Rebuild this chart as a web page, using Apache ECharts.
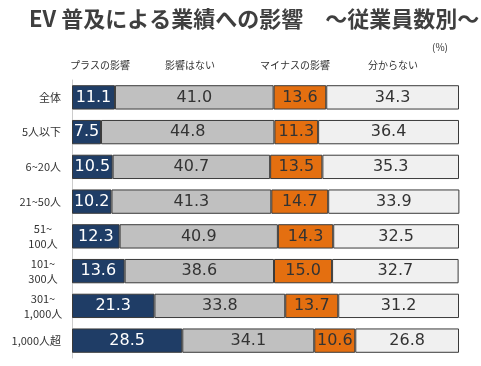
<!DOCTYPE html>
<html><head><meta charset="utf-8">
<script src="https://cdn.jsdelivr.net/npm/echarts@6/dist/echarts.min.js"></script>
<style>html,body{margin:0;padding:0;background:#fff}#c{width:481px;height:366px}</style>
</head><body><div id="c"></div>
<script>
const categories = ['全体','5人以下','6~20人','21~50人','51~\n100人','101~\n300人','301~\n1,000人','1,000人超'];
const seriesNames = ['プラスの影響','影響はない','マイナスの影響','分からない'];
const plus = [11.1, 7.5, 10.5, 10.2, 12.3, 13.6, 21.3, 28.5];
const none = [41.0, 44.8, 40.7, 41.3, 40.9, 38.6, 33.8, 34.1];
const minus = [13.6, 11.3, 13.5, 14.7, 14.3, 15.0, 13.7, 10.6];
const unknown = [34.3, 36.4, 35.3, 33.9, 32.5, 32.7, 31.2, 26.8];
const colors = ['#1f3d66', '#c0c0c0', '#e46f10', '#f0f0f0'];
const labelColors = ['#ffffff', '#333333', '#333333', '#333333'];
const font = '"Noto Sans CJK JP", "Noto Sans", sans-serif';
const numFont = '"DejaVu Sans", sans-serif';

const chart = echarts.init(document.getElementById('c'), null, {renderer: 'canvas'});
const values = [plus, none, minus, unknown];
const series = values.map((d, i) => ({
  name: seriesNames[i], type: 'bar', stack: 't', data: d,
  barCategoryGap: '30%',
  itemStyle: {color: colors[i], borderColor: '#3a3a3a', borderWidth: 1},
  label: {show: true, position: 'inside', color: labelColors[i], fontSize: 16,
    fontFamily: numFont, formatter: p => p.value.toFixed(1)}
}));
chart.setOption({
  animation: false,
  title: {text: 'EV 普及による業績への影響　～従業員数別～', left: 24, top: 3,
    textStyle: {fontSize: 22, fontWeight: 'bold', color: '#3f3f3f', fontFamily: font}},
  grid: {left: 72, right: 22, top: 80, bottom: 8},
  xAxis: {type: 'value', min: 0, max: 100, show: false},
  yAxis: {type: 'category', data: categories, inverse: true,
    axisLine: {show: true, lineStyle: {color: '#cccccc'}}, axisTick: {show: false},
    axisLabel: {margin: 11, color: '#333', fontSize: 11, fontFamily: font, lineHeight: 15,
      formatter: v => v.split('\n').map(s => v.includes('\n') ? '{c|' + s + '}' : s).join('\n'),
      rich: {c: {width: 36, align: 'center', fontSize: 11, color: '#333', fontFamily: font, lineHeight: 15}}}},
  graphic: [
    {type: 'text', left: 70, top: 60, style: {text: seriesNames[0], fill: '#333', font: '10px ' + font}},
    {type: 'text', left: 165, top: 60, style: {text: seriesNames[1], fill: '#333', font: '10px ' + font}},
    {type: 'text', left: 260, top: 60, style: {text: seriesNames[2], fill: '#333', font: '10px ' + font}},
    {type: 'text', left: 368, top: 60, style: {text: seriesNames[3], fill: '#333', font: '10px ' + font}},
    {type: 'text', left: 432, top: 42, style: {text: '(%)', fill: '#333', font: '10px ' + font}}
  ],
  series: series
});
</script></body></html>
